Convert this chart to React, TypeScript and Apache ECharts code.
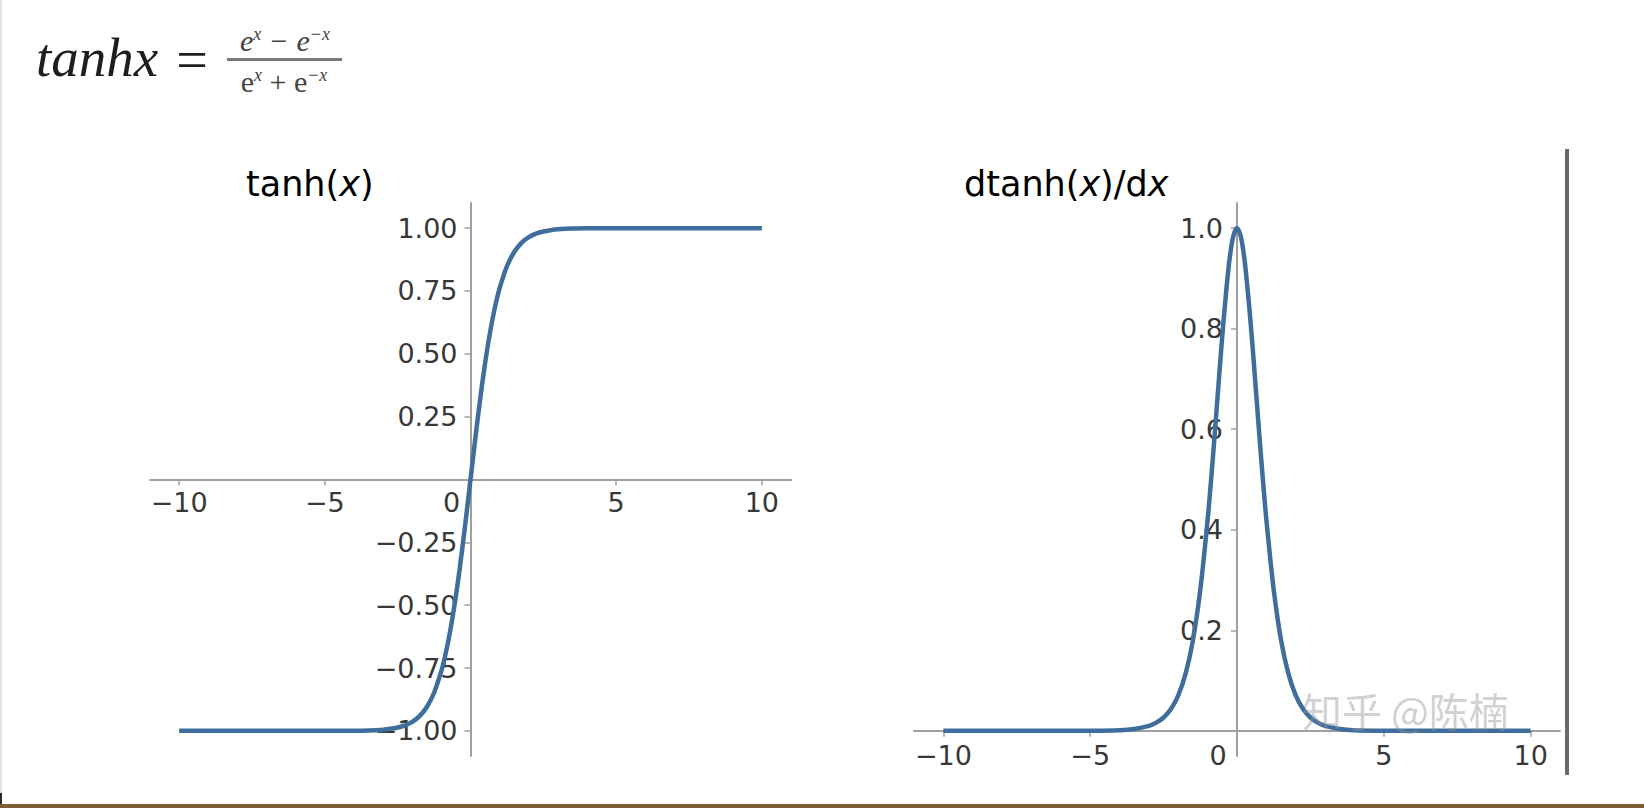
import React, { useEffect, useRef } from "react";
import * as echarts from "echarts";

// ---- data ----
const X_VALUES = [
  -10, -9, -8, -7, -6, -5, -4, -3.5, -3, -2.75, -2.5, -2.25, -2, -1.75, -1.5, -1.25,
  -1, -0.875, -0.75, -0.625, -0.5, -0.375, -0.25, -0.125, 0, 0.125, 0.25, 0.375, 0.5, 0.625, 0.75, 0.875, 1,
  1.25, 1.5, 1.75, 2, 2.25, 2.5, 2.75, 3, 3.5, 4, 5, 6, 7, 8, 9, 10,
];
const TANH_VALUES = [
  -1, -1, -1, -1, -1, -1, -0.9993, -0.9982, -0.9951, -0.9919, -0.9866, -0.978, -0.964, -0.9414, -0.9051, -0.8483,
  -0.7616, -0.7039, -0.6351, -0.5546, -0.4621, -0.3584, -0.2449, -0.1243, 0, 0.1243, 0.2449, 0.3584, 0.4621, 0.5546, 0.6351, 0.7039, 0.7616,
  0.8483, 0.9051, 0.9414, 0.964, 0.978, 0.9866, 0.9919, 0.9951, 0.9982, 0.9993, 1, 1, 1, 1, 1, 1,
];
const DTANH_VALUES = [
  0, 0, 0, 0, 0, 0.0002, 0.0013, 0.0036, 0.0099, 0.0163, 0.0266, 0.0435, 0.0707, 0.1138, 0.1807, 0.2805,
  0.42, 0.5045, 0.5966, 0.6924, 0.7864, 0.8701, 0.94, 0.9845, 1, 0.9845, 0.94, 0.8701, 0.7864, 0.6924, 0.5966, 0.5045, 0.42,
  0.2805, 0.1807, 0.1138, 0.0707, 0.0435, 0.0266, 0.0163, 0.0099, 0.0036, 0.0013, 0.0002, 0, 0, 0, 0, 0,
];
const X_TICKS = [-10, -5, 0, 5, 10];
const TANH_Y_TICKS = [-1, -0.75, -0.5, -0.25, 0.25, 0.5, 0.75, 1];
const DTANH_Y_TICKS = [0.2, 0.4, 0.6, 0.8, 1.0];
const TITLES = ["tanh(", "x", ")"];
const TITLES_D = ["dtanh(", "x", ")/d", "x"];
const WATERMARK = "知乎 @陈楠";

const LINE_COLOR = "#3f6e9c";
const SPINE_COLOR = "#a0a0a0";
const LABEL_COLOR = "#383838";
const LABEL_FONT = "DejaVu Sans";
const LABEL_SIZE = 27;

const minus = (s: string) => s.replace("-", "\u2212");

function xAxisCfg(gridIndex: number, margin: number, offset: number) {
  return {
    type: "value",
    gridIndex,
    min: -11,
    max: 11,
    position: "bottom",
    offset,
    splitLine: { show: false },
    axisLine: { onZero: false, lineStyle: { color: SPINE_COLOR, width: 2 } },
    axisTick: { show: true, length: 6, customValues: X_TICKS, lineStyle: { color: SPINE_COLOR, width: 1.5 } },
    axisLabel: {
      customValues: X_TICKS,
      margin,
      color: LABEL_COLOR,
      fontFamily: LABEL_FONT,
      fontSize: LABEL_SIZE,
      formatter: (v: number) => (v === 0 ? "{z|0}" : minus(String(v))),
      rich: { z: { fontFamily: LABEL_FONT, fontSize: LABEL_SIZE, color: LABEL_COLOR, padding: [0, 38, 0, 0] } },
    },
  };
}

function yAxisCfg(gridIndex: number, min: number, max: number, ticks: number[], digits: number, margin: number, offset: number) {
  return {
    type: "value",
    gridIndex,
    min,
    max,
    position: "left",
    offset,
    splitLine: { show: false },
    axisLine: { onZero: false, lineStyle: { color: SPINE_COLOR, width: 2 } },
    axisTick: { show: true, length: 6, customValues: ticks, lineStyle: { color: SPINE_COLOR, width: 1.5 } },
    axisLabel: {
      customValues: ticks,
      margin,
      color: LABEL_COLOR,
      fontFamily: LABEL_FONT,
      fontSize: LABEL_SIZE,
      formatter: (v: number) => minus(v.toFixed(digits)),
    },
  };
}

export default function App() {
  const ref = useRef<HTMLDivElement>(null);
  useEffect(() => {
    if (!ref.current) return;
    const chart = echarts.init(ref.current, undefined, { renderer: "svg" });
    const tanhData = X_VALUES.map((x, i) => [x, TANH_VALUES[i]]);
    const dtanhData = X_VALUES.map((x, i) => [x, DTANH_VALUES[i]]);

    const titleRich = {
      n: { fontFamily: LABEL_FONT, fontSize: 35, color: "#2e2e2e" },
      i: { fontFamily: LABEL_FONT, fontSize: 35, fontStyle: "italic", color: "#2e2e2e" },
    };

    // grid geometry
    const L = { left: 150, top: 203, width: 641, height: 553 };
    const R = { left: 914, top: 203, width: 646, height: 553 };
    const lZeroY = L.top + L.height * (1.1 / 2.2);
    const lZeroX = L.left + L.width * 0.5;
    const rZeroY = R.top + R.height * (1.05 / 1.1);
    const rZeroX = R.left + R.width * 0.5;

    chart.setOption({
      animation: false,
      backgroundColor: "#ffffff",
      grid: [
        { ...L, outerBoundsMode: "none", containLabel: false },
        { ...R, outerBoundsMode: "none", containLabel: false },
      ],
      xAxis: [
        xAxisCfg(0, 9, -(L.top + L.height - lZeroY)),
        xAxisCfg(1, 11, -(R.top + R.height - rZeroY)),
      ],
      yAxis: [
        yAxisCfg(0, -1.1, 1.1, TANH_Y_TICKS, 2, 13, -(lZeroX - L.left)),
        yAxisCfg(1, -0.05, 1.05, DTANH_Y_TICKS, 1, 14, -(rZeroX - R.left)),
      ],
      series: [
        {
          type: "line",
          xAxisIndex: 0,
          yAxisIndex: 0,
          data: tanhData,
          showSymbol: false,
          smooth: 0.3,
          lineStyle: { color: LINE_COLOR, width: 4.5 },
          z: 3,
        },
        {
          type: "line",
          xAxisIndex: 1,
          yAxisIndex: 1,
          data: dtanhData,
          showSymbol: false,
          smooth: 0.3,
          lineStyle: { color: LINE_COLOR, width: 4.5 },
          z: 3,
        },
      ],
      graphic: [
        // left edge and bottom decorations
        { type: "rect", shape: { x: 0, y: 0, width: 2, height: 793 }, style: { fill: "#dbe3ec" }, silent: true },
        { type: "rect", shape: { x: 0, y: 793, width: 2, height: 11 }, style: { fill: "#2a2a2a" }, silent: true },
        { type: "rect", shape: { x: 0, y: 804, width: 1644, height: 4 }, style: { fill: "#7b5c36" }, silent: true },
        // right vertical line
        { type: "rect", shape: { x: 1565, y: 149, width: 4, height: 626 }, style: { fill: "#6a6a6a" }, silent: true },
        // formula
        {
          type: "text",
          x: 36,
          y: 57,
          style: { text: "tanhx", fontFamily: "Liberation Serif", fontStyle: "italic", fontSize: 55, fill: "#1e1e1e", verticalAlign: "middle", align: "left" },
        },
        {
          type: "text",
          x: 192,
          y: 60,
          style: { text: "=", fontFamily: "Liberation Serif", fontSize: 56, fill: "#1e1e1e", verticalAlign: "middle", align: "center" },
        },
        { type: "rect", shape: { x: 227, y: 58, width: 115, height: 3 }, style: { fill: "#7a7a7a" }, silent: true },
        {
          type: "text",
          x: 285,
          y: 40,
          style: {
            text: "{b|e}{s|x}{b| − e}{s|−x}",
            align: "center",
            verticalAlign: "middle",
            rich: {
              b: { fontFamily: "Liberation Serif", fontStyle: "italic", fontSize: 30, lineHeight: 30, fill: "#444" },
              s: { fontFamily: "Liberation Serif", fontStyle: "italic", fontSize: 18, lineHeight: 16, verticalAlign: "top", fill: "#444" },
            },
          },
        },
        {
          type: "text",
          x: 284,
          y: 81,
          style: {
            text: "{b|e}{s|x}{b| + e}{s|−x}",
            align: "center",
            verticalAlign: "middle",
            rich: {
              b: { fontFamily: "Liberation Serif", fontSize: 30, lineHeight: 30, fill: "#444" },
              s: { fontFamily: "Liberation Serif", fontStyle: "italic", fontSize: 18, lineHeight: 16, verticalAlign: "top", fill: "#444" },
            },
          },
        },
        // titles
        {
          type: "text",
          x: 246,
          y: 184,
          style: {
            text: `{n|${TITLES[0]}}{i|${TITLES[1]}}{n|${TITLES[2]}}`,
            verticalAlign: "middle",
            align: "left",
            rich: titleRich,
          },
        },
        {
          type: "text",
          x: 964,
          y: 184,
          style: {
            text: `{n|${TITLES_D[0]}}{i|${TITLES_D[1]}}{n|${TITLES_D[2]}}{i|${TITLES_D[3]}}`,
            verticalAlign: "middle",
            align: "left",
            rich: titleRich,
          },
        },
        // watermark
        {
          type: "text",
          x: 1302,
          y: 710,
          z: 10,
          style: {
            text: WATERMARK,
            fontFamily: "Noto Sans CJK SC",
            fontSize: 40,
            lineHeight: 40,
            fill: "rgba(150,150,150,0.45)",
            verticalAlign: "middle",
            align: "left",
          },
        },
      ],
    });
    return () => chart.dispose();
  }, []);

  return (
    <div
      ref={ref}
      style={{ position: "fixed", left: 0, top: 0, width: 1644, height: 808, background: "#fff" }}
    />
  );
}
